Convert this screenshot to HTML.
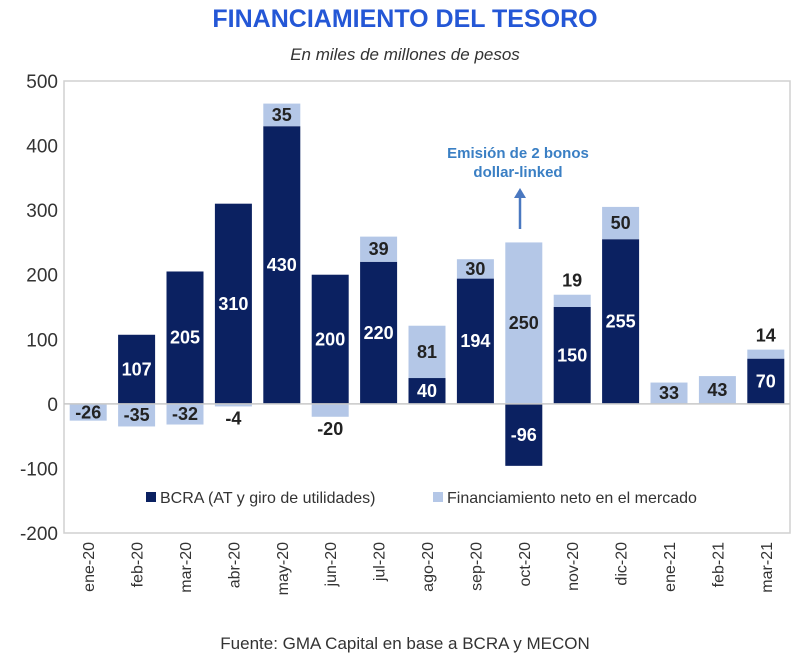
<!DOCTYPE html>
<html><head><meta charset="utf-8"><style>
body{margin:0;background:#fff;font-family:"Liberation Sans",sans-serif;}
svg text{font-family:"Liberation Sans",sans-serif;}
</style></head><body>
<svg width="800" height="656" viewBox="0 0 800 656" xmlns="http://www.w3.org/2000/svg">
<text x="405" y="27" text-anchor="middle" font-size="25" font-weight="bold" fill="#2457d6">FINANCIAMIENTO DEL TESORO</text>
<text x="405" y="60" text-anchor="middle" font-size="17" font-style="italic" fill="#333">En miles de millones de pesos</text>
<g id="plot"></g>
<text x="405" y="649" text-anchor="middle" font-size="17" fill="#333">Fuente: GMA Capital en base a BCRA y MECON</text>
</svg>
<script>
const categories=["ene-20","feb-20","mar-20","abr-20","may-20","jun-20","jul-20","ago-20","sep-20","oct-20","nov-20","dic-20","ene-21","feb-21","mar-21"];
const bcra=[0,107,205,310,430,200,220,40,194,-96,150,255,0,0,70];
const mercado=[-26,-35,-32,-4,35,-20,39,81,30,250,19,50,33,43,14];
const yTicks=[500,400,300,200,100,0,-100,-200];
const L=64,R=790,T=81,B=533,yMin=-200,yMax=500;
const NS="http://www.w3.org/2000/svg";
const g=document.getElementById('plot');
const y=v=>T+(yMax-v)/(yMax-yMin)*(B-T);
const band=(R-L)/categories.length;
const xc=i=>L+band*(i+0.5);
const bw=37;
function mk(t,a){const e=document.createElementNS(NS,t);for(const k in a)e.setAttribute(k,a[k]);g.appendChild(e);return e;}
const frame=mk('rect',{x:L,y:T,width:R-L,height:B-T,fill:'none',stroke:'#d0d0d0','stroke-width':1.5});


yTicks.forEach(v=>{const t=mk('text',{x:L-6,y:y(v)+7,'text-anchor':'end','font-size':19,fill:'#333'});t.textContent=v;

});
function seg(i,base,v,fill,name){const y0=y(base),y1=y(base+v);const r=mk('rect',{x:xc(i)-bw/2,y:Math.min(y0,y1),width:bw,height:Math.abs(y1-y0),fill:fill});

return [y0,y1];}
function lab(x,yy,txt,col){const t=mk('text',{x:x,y:yy+6,'text-anchor':'middle','font-size':18,'font-weight':'bold',fill:col});t.textContent=txt;

}
categories.forEach((c,i)=>{
 const b=bcra[i],m=mercado[i];
 if(b!==0){const [a,z]=seg(i,0,b,'#0b2161','bar-bcra');lab(xc(i),(a+z)/2,b,'#fff');}
 if(m!==0){const base=(m>0&&b>0)?b:0;const [a,z]=seg(i,base,m,'#b4c7e7','bar-mercado');
  const h=Math.abs(z-a);
  if(h>=14)lab(xc(i),(a+z)/2,m,'#222');
  else if(m<0)lab(xc(i),Math.max(a,z)+12,m,'#222');
  else lab(xc(i),Math.min(a,z)-14,m,'#222');}
 const t=mk('text',{x:0,y:0,'text-anchor':'end','font-size':16,fill:'#333',transform:`translate(${xc(i)+6},${B+9}) rotate(-90)`});t.textContent=c;
 
 
});
const zl=mk('line',{x1:L,x2:R,y1:y(0),y2:y(0),stroke:'#c8c8c8','stroke-width':1.5});


const ann=mk('text',{x:518,y:158,'text-anchor':'middle','font-size':15,'font-weight':'bold',fill:'#3a7fc4'});ann.textContent='Emisión de 2 bonos';


const ann2=mk('text',{x:518,y:177,'text-anchor':'middle','font-size':15,'font-weight':'bold',fill:'#3a7fc4'});ann2.textContent='dollar-linked';


const ar=mk('line',{x1:520,x2:520,y1:229,y2:196,stroke:'#4a78c0','stroke-width':2.5});


const ah=mk('path',{d:'M514,198 L520,188 L526,198 Z',fill:'#4a78c0'});


const l1=mk('rect',{x:146,y:492,width:10,height:10,fill:'#0b2161'});


const lt1=mk('text',{x:160,y:503,'font-size':16,fill:'#333'});lt1.textContent='BCRA (AT y giro de utilidades)';


const l2=mk('rect',{x:433,y:492,width:10,height:10,fill:'#b4c7e7'});


const lt2=mk('text',{x:447,y:503,'font-size':16,fill:'#333'});lt2.textContent='Financiamiento neto en el mercado';


</script>
</body></html>
